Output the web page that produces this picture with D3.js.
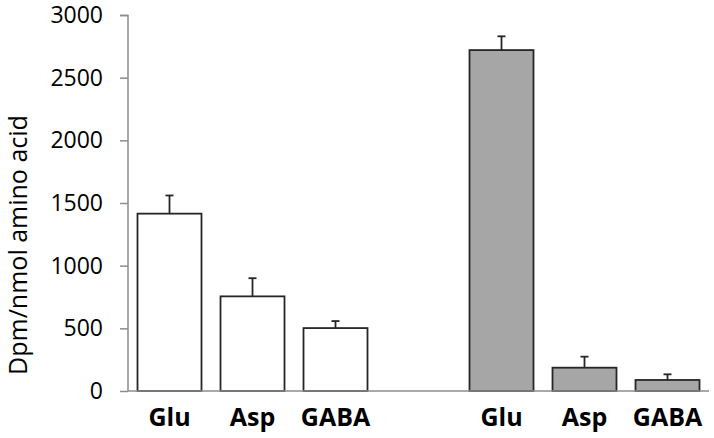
<!DOCTYPE html>
<html><head><meta charset="utf-8">
<script src="https://cdn.jsdelivr.net/npm/d3@7"></script>
<style>
html,body{margin:0;padding:0;background:#fff;}
svg{display:block;}
</style></head>
<body>
<svg id="chart" width="714" height="438"></svg>
<script>
const categories = ["Glu","Asp","GABA","","Glu ","Asp ","GABA "];
const labels = ["Glu","Asp","GABA","","Glu","Asp","GABA"];
const values = [1415, 755, 502, null, 2720, 186, 88];
const errors = [145, 145, 56, null, 110, 88, 45];
const groups = ["white","white","white",null,"gray","gray","gray"];
const yTicks = [0, 500, 1000, 1500, 2000, 2500, 3000];
const yTitle = "Dpm/nmol amino acid";

const svg = d3.select("#chart");
const x = d3.scaleBand().domain(categories).range([128, 709]).paddingInner(0.229).paddingOuter(0.1145);
const y = d3.scaleLinear().domain([0, 3000]).range([391, 15]);
const fillColor = {white: "#ffffff", gray: "#a6a6a6"};

// y axis
const yAxis = svg.append("g").attr("transform","translate(128,0)")
  .call(d3.axisLeft(y).tickValues(yTicks).tickSize(8).tickPadding(17).tickFormat(d3.format("d")));
yAxis.select(".domain").attr("stroke","#8c8c8c").attr("stroke-width",1.5).attr("d","M-8,15.5H0V391");
yAxis.selectAll(".tick line").attr("stroke","#8c8c8c").attr("stroke-width",1.5);
yAxis.selectAll(".tick text").attr("font-family","'Open Sans', sans-serif").attr("font-size","23px").attr("fill","#000");

const data = categories.map((c,i)=>({c, label: labels[i], v: values[i], e: errors[i], g: groups[i]})).filter(d=>d.v!=null);

// bars
svg.append("g").selectAll("rect").data(data).join("rect")
  .attr("x", d=>x(d.c)).attr("width", x.bandwidth())
  .attr("y", d=>y(d.v)).attr("height", d=>y(0)-y(d.v))
  .attr("fill", d=>fillColor[d.g]).attr("stroke","#262626").attr("stroke-width",1.8);

// error bars
const eb = svg.append("g").attr("stroke","#262626").attr("stroke-width",1.8);
eb.selectAll("line.v").data(data).join("line").attr("class","v")
  .attr("x1", d=>x(d.c)+x.bandwidth()/2).attr("x2", d=>x(d.c)+x.bandwidth()/2)
  .attr("y1", d=>y(d.v)).attr("y2", d=>y(d.v+d.e));
eb.selectAll("line.h").data(data).join("line").attr("class","h")
  .attr("x1", d=>x(d.c)+x.bandwidth()/2-4).attr("x2", d=>x(d.c)+x.bandwidth()/2+4)
  .attr("y1", d=>y(d.v+d.e)).attr("y2", d=>y(d.v+d.e));

// x axis baseline
svg.append("line").attr("x1",128).attr("x2",709).attr("y1",y(0)).attr("y2",y(0))
  .attr("stroke","#8c8c8c").attr("stroke-width",1.5);

// x labels
svg.append("g").selectAll("text").data(data).join("text")
  .attr("x", d=>x(d.c)+x.bandwidth()/2).attr("y", 426)
  .attr("text-anchor","middle").attr("font-family","'Open Sans', sans-serif")
  .attr("font-weight","bold").attr("font-size","25px").attr("fill","#000")
  .text(d=>d.label);

// y title
svg.append("text").attr("transform","translate(27,245) rotate(-90)")
  .attr("text-anchor","middle").attr("font-family","'Open Sans', sans-serif")
  .attr("font-size","25px").attr("fill","#000").text(yTitle);
</script>
</body></html>
